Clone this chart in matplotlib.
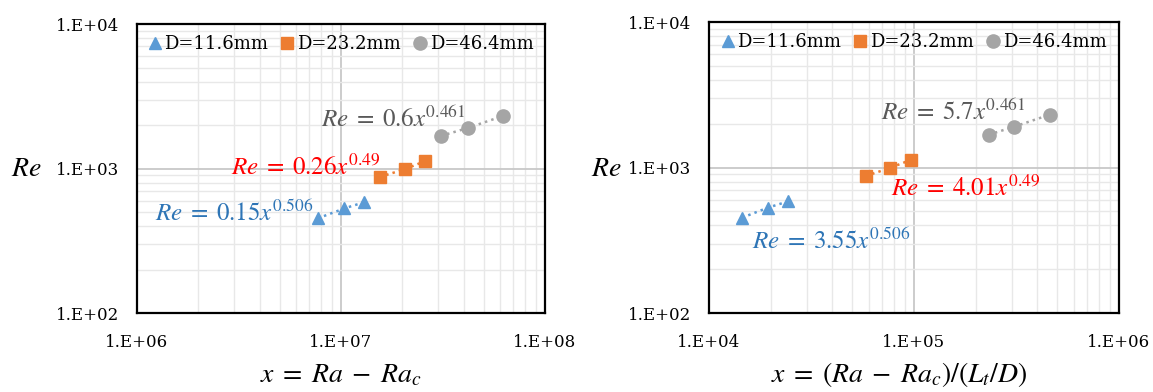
import matplotlib
matplotlib.use("Agg")
import matplotlib.pyplot as plt
from matplotlib.ticker import LogLocator, NullFormatter, FixedLocator

plt.rcParams['font.family'] = ['DejaVu Serif']
plt.rcParams['mathtext.fontset'] = 'stix'

# Re values (same for both panels)
re_116 = [452, 530, 585]
re_232 = [874, 993, 1127]
re_464 = [1679, 1905, 2309]

# left panel x = Ra - Ra_c
xl_116 = [7.69e6, 1.04e7, 1.30e7]
xl_232 = [1.55e7, 2.07e7, 2.59e7]
xl_464 = [3.08e7, 4.17e7, 6.21e7]

# right panel x = (Ra - Ra_c)/(Lt/D)
xr_116 = [1.45e4, 1.94e4, 2.43e4]
xr_232 = [5.82e4, 7.63e4, 9.63e4]
xr_464 = [2.31e5, 3.07e5, 4.60e5]

labels = ["D=11.6mm", "D=23.2mm", "D=46.4mm"]
left_eqs = [r"$Re\;=\;0.15x^{0.506}$", r"$Re\;=\;0.26x^{0.49}$", r"$Re\;=\;0.6x^{0.461}$"]
right_eqs = [r"$Re\;=\;3.55x^{0.506}$", r"$Re\;=\;4.01x^{0.49}$", r"$Re\;=\;5.7x^{0.461}$"]

colors = ["#5B9BD5", "#ED7D31", "#A5A5A5"]
eq_colors = ["#2E75B6", "#FF0000", "#595959"]
markers = ["^", "s", "o"]
msizes = [9, 9, 9.5]

fig = plt.figure(figsize=(11.53, 3.92), dpi=100)
ax1 = fig.add_axes([0.1188, 0.2015, 0.3539, 0.7372])
ax2 = fig.add_axes([0.6149, 0.2015, 0.3556, 0.7423])


def setup(ax, xlim, xticks, xticklabels):
    ax.set_xscale("log")
    ax.set_yscale("log")
    ax.set_xlim(xlim)
    ax.set_ylim(1e2, 1e4)
    ax.xaxis.set_major_locator(FixedLocator(xticks))
    ax.set_xticklabels(xticklabels)
    ax.yaxis.set_major_locator(FixedLocator([1e2, 1e3, 1e4]))
    ax.set_yticklabels(["1.E+02", "1.E+03", "1.E+04"])
    ax.xaxis.set_minor_locator(LogLocator(base=10, subs=range(2, 10)))
    ax.yaxis.set_minor_locator(LogLocator(base=10, subs=range(2, 10)))
    ax.xaxis.set_minor_formatter(NullFormatter())
    ax.yaxis.set_minor_formatter(NullFormatter())
    ax.grid(True, which="major", color="#C8C8C8", lw=1.3, zorder=0)
    ax.grid(True, which="minor", color="#E8E8E8", lw=1.0, zorder=0)
    ax.set_axisbelow(True)
    ax.tick_params(which="both", length=0, labelsize=12)
    ax.tick_params(axis="y", pad=13)
    ax.tick_params(axis="x", pad=15)
    for s in ax.spines.values():
        s.set_linewidth(1.6)
        s.set_color("black")


def draw(ax, xs, ys, eqs, eq_pos):
    for i in range(3):
        ax.plot(xs[i], ys[i], ls=":", lw=1.8, color=colors[i], zorder=2)
        ax.plot(xs[i], ys[i], ls="none", marker=markers[i], ms=msizes[i],
                color=colors[i], label=labels[i], zorder=3)
        ax.text(eq_pos[i][0], eq_pos[i][1], eqs[i], color=eq_colors[i],
                fontsize=18, transform=ax.transAxes, ha="left", va="center", zorder=4)
    ax.legend(loc="upper center", ncol=3, frameon=False, fontsize=13,
              handlelength=0.7, handletextpad=0.2, columnspacing=0.7,
              borderaxespad=0.2, bbox_to_anchor=(0.5, 1.0))


setup(ax1, (1e6, 1e8), [1e6, 1e7, 1e8], ["1.E+06", "1.E+07", "1.E+08"])
setup(ax2, (1e4, 1e6), [1e4, 1e5, 1e6], ["1.E+04", "1.E+05", "1.E+06"])

draw(ax1, [xl_116, xl_232, xl_464], [re_116, re_232, re_464], left_eqs,
     [(0.043, 0.346), (0.231, 0.505), (0.451, 0.672)])
draw(ax2, [xr_116, xr_232, xr_464], [re_116, re_232, re_464], right_eqs,
     [(0.104, 0.248), (0.444, 0.428), (0.420, 0.690)])

fig.text(0.0225, 0.569, r"$Re$", fontsize=20, ha="center", va="center")
fig.text(0.5256, 0.569, r"$Re$", fontsize=20, ha="center", va="center")
fig.text(0.2957, 0.008, r"$x\;=\;Ra\;-\;Ra_c$", fontsize=20, ha="center", va="bottom")
fig.text(0.780, 0.008, r"$x\;=\;(Ra\;-\;Ra_c)/(L_t/D)$", fontsize=20, ha="center", va="bottom")

fig.savefig("out.png", dpi=100)
